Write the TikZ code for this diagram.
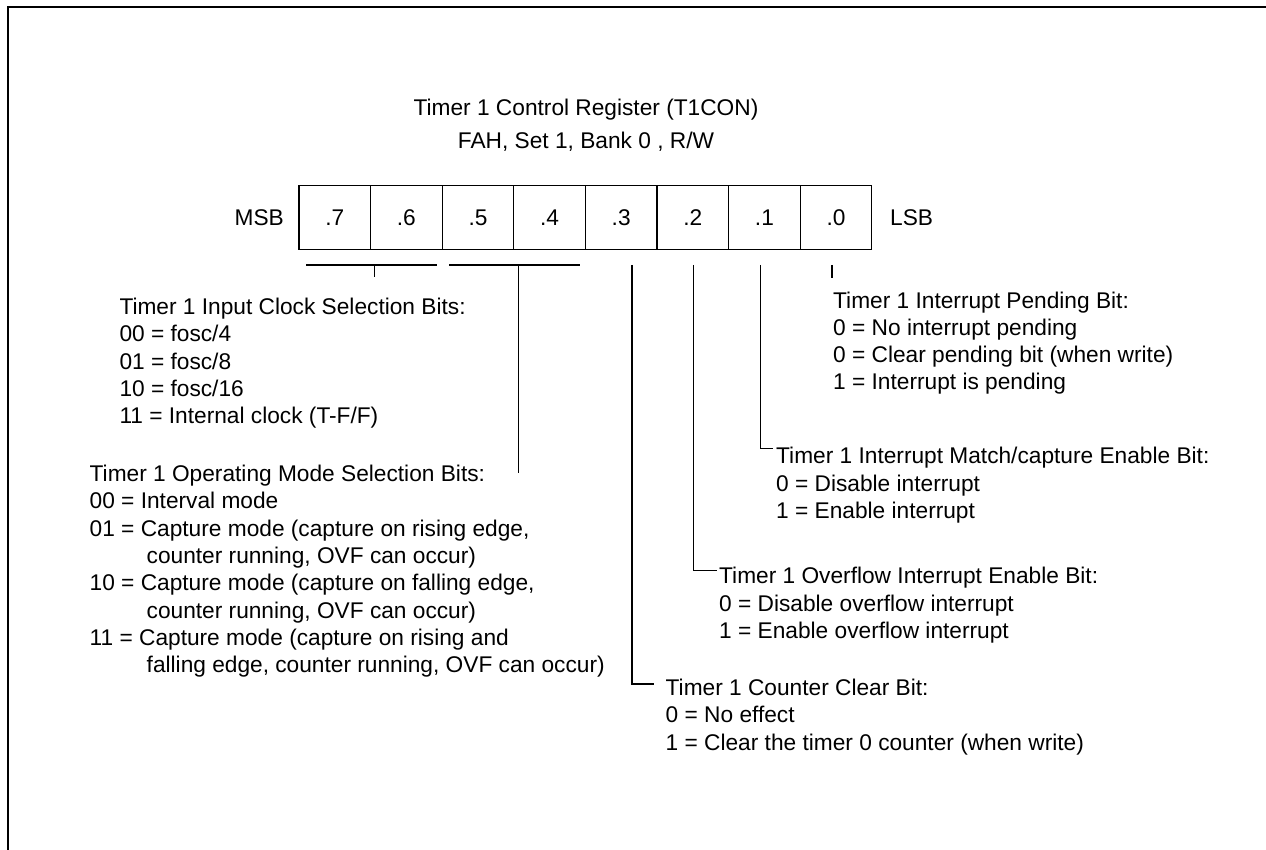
\documentclass[tikz,border=0pt]{standalone}
\usepackage{fontspec}
\setmainfont{Liberation Sans}

\begin{document}
\begin{tikzpicture}[x=1pt,y=-1pt,
    every node/.style={font=\fontsize{22.7}{27.3}\selectfont,inner sep=0pt},
    bitcell/.style={draw,line width=1.3pt,minimum width=71.6pt,minimum height=64.4pt},
    note/.style={anchor=north west,align=left},
    wire/.style={line width=1.3pt}]
  \useasboundingbox (0,0) rectangle (1266,850);
  \draw[line width=2pt] (7.5,850) -- (7.5,7.5) -- (1266,7.5);
  % title
  \node[anchor=base] (title) at (586,115.5) {Timer 1 Control Register (T1CON)};
  \node[anchor=base] (addr) at (586,148.5) {FAH, Set 1, Bank 0 , R/W};
  % register cells
  \node[bitcell] (b7) at (334.8,217.4) {.7};
  \node[bitcell] (b6) at (406.4,217.4) {.6};
  \node[bitcell] (b5) at (478.0,217.4) {.5};
  \node[bitcell] (b4) at (549.6,217.4) {.4};
  \node[bitcell] (b3) at (621.2,217.4) {.3};
  \node[bitcell] (b2) at (692.8,217.4) {.2};
  \node[bitcell] (b1) at (764.4,217.4) {.1};
  \node[bitcell] (b0) at (836.0,217.4) {.0};
  \node[anchor=east] (msb) at (284,217.4) {MSB};
  \node[anchor=west] (lsb) at (890,217.4) {LSB};
  % bit descriptions
  \node[note] (clk) at (119.3,298) {Timer 1 Input Clock Selection Bits:\\
    00 = fosc/4\\
    01 = fosc/8\\
    10 = fosc/16\\
    11 = Internal clock (T-F/F)};
  \node[note] (opm) at (89.5,465) {Timer 1 Operating Mode Selection Bits:\\
    00 = Interval mode\\
    01 = Capture mode (capture on rising edge,\\
    \hspace*{57pt}counter running, OVF can occur)\\
    10 = Capture mode (capture on falling edge,\\
    \hspace*{57pt}counter running, OVF can occur)\\
    11 = Capture mode (capture on rising and\\
    \hspace*{57pt}falling edge, counter running, OVF can occur)};
  \node[note] (pnd) at (833,291.4) {Timer 1 Interrupt Pending Bit:\\
    0 = No interrupt pending\\
    0 = Clear pending bit (when write)\\
    1 = Interrupt is pending};
  \node[note] (mtc) at (776,447.2) {Timer 1 Interrupt Match/capture Enable Bit:\\
    0 = Disable interrupt\\
    1 = Enable interrupt};
  \node[note] (ovf) at (719,567.2) {Timer 1 Overflow Interrupt Enable Bit:\\
    0 = Disable overflow interrupt\\
    1 = Enable overflow interrupt};
  \node[note] (clr) at (665.5,679) {Timer 1 Counter Clear Bit:\\
    0 = No effect\\
    1 = Clear the timer 0 counter (when write)};
  % leader lines
  \coordinate (g1a) at (306,265);
  \coordinate (g1b) at (436.6,265);
  \coordinate (g1m) at (374.7,265);
  \coordinate (g1e) at (374.7,277);
  \coordinate (g2a) at (449,265);
  \coordinate (g2b) at (579.7,265);
  \coordinate (g2m) at (518.4,265);
  \coordinate (g2e) at (518.4,473);
  \coordinate (t3) at (632,265);
  \coordinate (t2) at (693.3,265);
  \coordinate (t1) at (760.7,265);
  \coordinate (t0) at (832,265);
  \coordinate (e0) at (832,278);
  \draw[wire] (g1a) -- (g1b);
  \draw[wire] (g1m) -- (g1e);
  \draw[wire] (g2a) -- (g2b);
  \draw[wire] (g2m) -- (g2e);
  \draw[wire] (t3) |- ([shift={(-12,5)}]clr.north west);
  \draw[wire] (t2) |- ([shift={(-2.3,3)}]ovf.north west);
  \draw[wire] (t1) |- ([shift={(-2.7,1)}]mtc.north west);
  \draw[wire] (t0) -- (e0);
\end{tikzpicture}
\end{document}
